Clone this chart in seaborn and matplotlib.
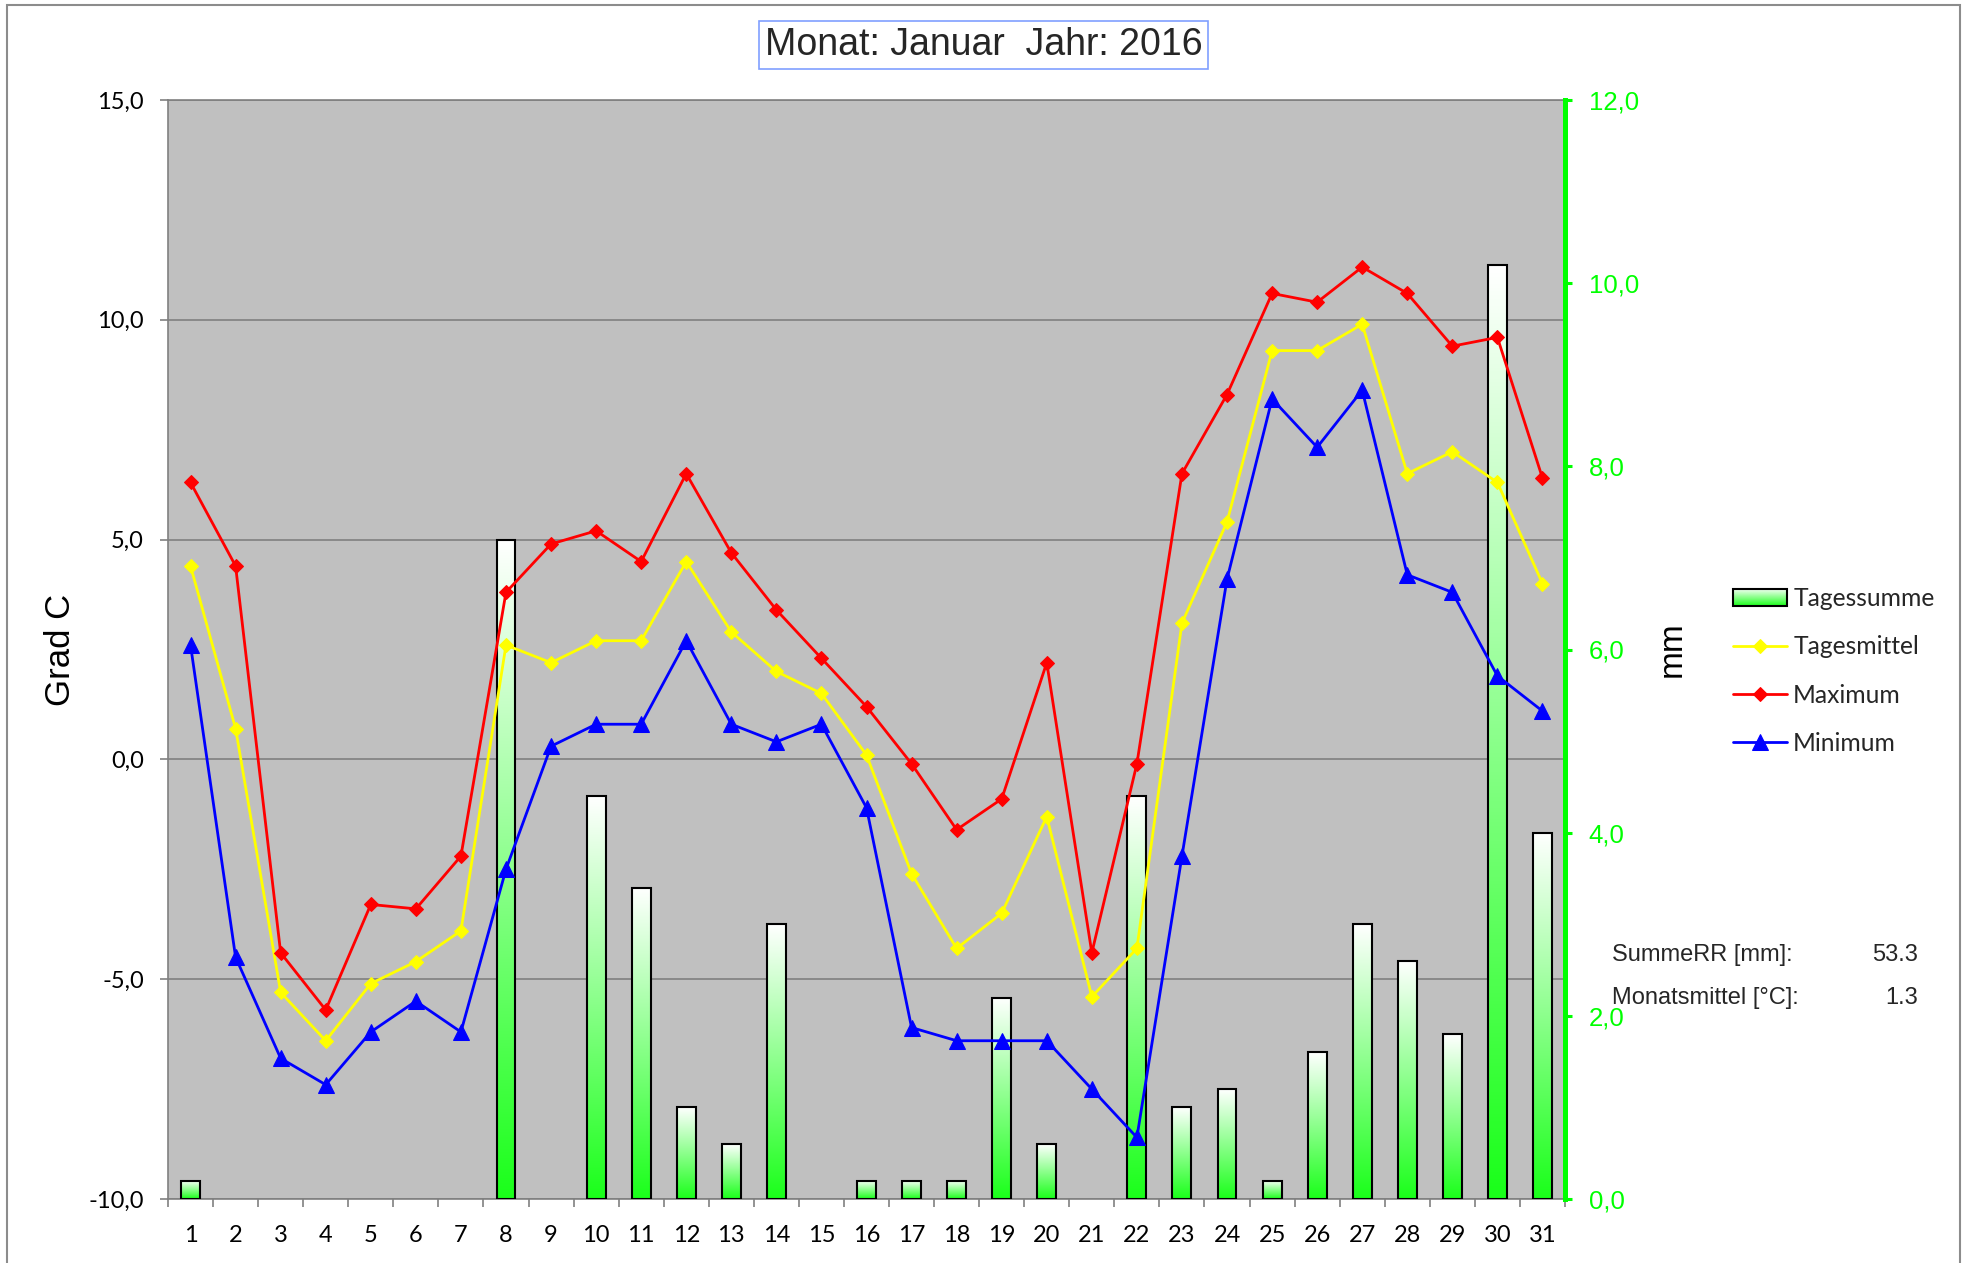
import numpy as np
import pandas as pd
import matplotlib
matplotlib.use("Agg")
import matplotlib.pyplot as plt
import seaborn as sns
from matplotlib.colors import LinearSegmentedColormap
from matplotlib.patches import Rectangle
from matplotlib.ticker import FuncFormatter
from matplotlib.legend_handler import HandlerBase
from matplotlib.image import BboxImage
from matplotlib.transforms import Bbox, TransformedBbox

# Tageswerte Januar 2016
tage = list(range(1, 32))
tagessumme = [0.2, 0, 0, 0, 0, 0, 0, 7.2, 0, 4.4, 3.4, 1.0, 0.6, 3.0, 0, 0.2,
              0.2, 0.2, 2.2, 0.6, 0, 4.4, 1.0, 1.2, 0.2, 1.6, 3.0, 2.6, 1.8, 10.2, 4.0]
tagesmittel = [4.4, 0.7, -5.3, -6.4, -5.1, -4.6, -3.9, 2.6, 2.2, 2.7, 2.7, 4.5, 2.9, 2.0, 1.5, 0.1,
               -2.6, -4.3, -3.5, -1.3, -5.4, -4.3, 3.1, 5.4, 9.3, 9.3, 9.9, 6.5, 7.0, 6.3, 4.0]
maximum = [6.3, 4.4, -4.4, -5.7, -3.3, -3.4, -2.2, 3.8, 4.9, 5.2, 4.5, 6.5, 4.7, 3.4, 2.3, 1.2,
           -0.1, -1.6, -0.9, 2.2, -4.4, -0.1, 6.5, 8.3, 10.6, 10.4, 11.2, 10.6, 9.4, 9.6, 6.4]
minimum = [2.6, -4.5, -6.8, -7.4, -6.2, -5.5, -6.2, -2.5, 0.3, 0.8, 0.8, 2.7, 0.8, 0.4, 0.8, -1.1,
           -6.1, -6.4, -6.4, -6.4, -7.5, -8.6, -2.2, 4.1, 8.2, 7.1, 8.4, 4.2, 3.8, 1.9, 1.1]
summe_rr = 53.3
monatsmittel = 1.3

temp_ticks = [-10, -5, 0, 5, 10, 15]
mm_ticks = [0, 2, 4, 6, 8, 10, 12]

sns.set_theme(style="ticks")
plt.rcParams['font.family'] = ['Liberation Sans', 'DejaVu Sans']

df = pd.DataFrame({
    "Tag": tage,
    "Tagessumme": tagessumme,
    "Tagesmittel": tagesmittel,
    "Maximum": maximum,
    "Minimum": minimum,
})

komma = FuncFormatter(lambda v, p: f"{v:.1f}".replace('.', ','))
bar_cmap = LinearSegmentedColormap.from_list("gruen", ["#1aff1a", "#ffffff"])
gradient = np.linspace(0, 1, 256).reshape(-1, 1)

W, H = 1967, 1263
fig = plt.figure(figsize=(W / 100, H / 100), dpi=100)
ax = fig.add_axes([168 / W, 64 / H, 1397 / W, 1099 / H])
ax.set_facecolor('#c0c0c0')
ax2 = ax.twinx()   # Niederschlag
ax3 = ax.twinx()   # Temperaturlinien oben drauf

# Balken Tagessumme
sns.barplot(data=df, x="Tag", y="Tagessumme", ax=ax2, native_scale=True, width=0.42,
            color="white", edgecolor="black", linewidth=1.5, errorbar=None)
for bar in ax2.patches:
    x0, y0, w, h = bar.get_x(), bar.get_y(), bar.get_width(), bar.get_height()
    if h <= 0:
        bar.set_visible(False)
        continue
    ax2.imshow(gradient, extent=[x0, x0 + w, y0, y0 + h], origin='lower', cmap=bar_cmap,
               aspect='auto', interpolation='bicubic', zorder=bar.get_zorder() - 0.1)
    bar.set_facecolor('none')

# Temperaturlinien
sns.lineplot(data=df, x="Tag", y="Tagesmittel", ax=ax3, color="#ffff00", marker="D",
             markersize=7.5, markeredgecolor="#ffff00", linewidth=2, label="Tagesmittel",
             sort=False, legend=False)
sns.lineplot(data=df, x="Tag", y="Maximum", ax=ax3, color="#ff0000", marker="D",
             markersize=7.5, markeredgecolor="#ff0000", linewidth=2, label="Maximum",
             sort=False, legend=False)
sns.lineplot(data=df, x="Tag", y="Minimum", ax=ax3, color="#0000ff", marker="^",
             markersize=11, markeredgecolor="#0000ff", linewidth=2, label="Minimum",
             sort=False, legend=False)
ax3.set_ylim(-10, 15)
ax3.set_axis_off()

# linke Achse / Hintergrund
ax.set_xlim(0.5, 31.5)
ax.set_ylim(-10, 15)
ax.set_yticks(temp_ticks)
ax.yaxis.set_major_formatter(komma)
ax.set_xticks(tage)
ax.set_xticklabels([str(t) for t in tage])
ax.set_xticks(np.arange(0.5, 32, 1), minor=True)
ax.tick_params(axis='x', which='major', bottom=True, length=0, pad=19, labelsize=17,
               labelfontfamily='Lato', labelcolor='black')
ax.tick_params(axis='x', which='minor', bottom=True, length=5.8, width=1.2, color='#808080')
ax.tick_params(axis='y', left=True, length=5.8, width=1.2, color='#808080', pad=11.5,
               labelsize=17, labelfontfamily='Lato', labelcolor='black')
ax.grid(axis='y', color='#808080', linewidth=1.2)
ax.set_axisbelow(True)
for s in ['left', 'bottom', 'top']:
    ax.spines[s].set_color('#808080')
    ax.spines[s].set_linewidth(1.2)
ax.spines['right'].set_visible(False)
ax.set_xlabel('')
ax.set_ylabel('Grad C', fontsize=25, va='center', color='black')
ax.yaxis.set_label_coords(-0.0766, 0.5)

# rechte Achse mm
ax2.set_xlim(0.5, 31.5)
ax2.set_ylim(0, 12)
ax2.set_yticks(mm_ticks)
ax2.yaxis.set_major_formatter(komma)
ax2.tick_params(axis='y', right=True, colors='#00ff00', length=5, width=2.2, pad=12,
                labelsize=18.5)
for s in ['left', 'bottom', 'top']:
    ax2.spines[s].set_visible(False)
ax2.spines['right'].set_color('#00ff00')
ax2.spines['right'].set_linewidth(3.6)
ax2.set_xlabel('')
ax2.set_ylabel('mm', fontsize=24, va='center', color='black', rotation=90)
ax2.yaxis.set_label_coords(1.0766, 0.5)


class GradientBoxHandler(HandlerBase):
    def create_artists(self, legend, orig_handle, xdescent, ydescent, width, height,
                       fontsize, trans):
        box = Bbox.from_bounds(-xdescent, -ydescent, width, height)
        img = BboxImage(TransformedBbox(box, trans), cmap=bar_cmap, interpolation='bicubic',
                        origin='lower')
        img.set_data(gradient)
        edge = Rectangle((-xdescent, -ydescent), width, height, facecolor='none',
                         edgecolor='black', linewidth=1.5, transform=trans)
        return [img, edge]


proxy = Rectangle((0, 0), 1, 1)
handles = [proxy] + list(ax3.get_lines())
labels = ["Tagessumme", "Tagesmittel", "Maximum", "Minimum"]
fig.legend(handles, labels, loc='center left', bbox_to_anchor=(1733 / W, 1 - 671 / H),
           frameon=False, prop={'family': 'Lato', 'size': 17.7}, handlelength=2.2,
           handletextpad=0.25, labelspacing=1.03, borderpad=0, borderaxespad=0,
           handler_map={proxy: GradientBoxHandler()})

# Titel
fig.text(0.5, 1 - 45 / H, "Monat: Januar  Jahr: 2016", ha='center', va='center', fontsize=27,
         bbox=dict(boxstyle='square,pad=0.15', fc='white', ec='#809fff', lw=1.2))

# Monatswerte
fig.text(1611.7 / W, 1 - 961 / H, "SummeRR [mm]:", fontsize=17, va='baseline', ha='left')
fig.text(1918 / W, 1 - 961 / H, f"{summe_rr:.1f}", fontsize=17, va='baseline', ha='right')
fig.text(1611.7 / W, 1 - 1004 / H, "Monatsmittel [°C]:", fontsize=17, va='baseline', ha='left')
fig.text(1918 / W, 1 - 1004 / H, f"{monatsmittel:.1f}", fontsize=17, va='baseline', ha='right')

# Rahmen um das Diagramm
fig.add_artist(Rectangle((7 / W, -0.02), (1960 - 7) / W, (H - 5) / H + 0.02,
                         transform=fig.transFigure, fill=False, ec='#8c8c8c', lw=1.5))

fig.savefig("out.png", dpi=100)
